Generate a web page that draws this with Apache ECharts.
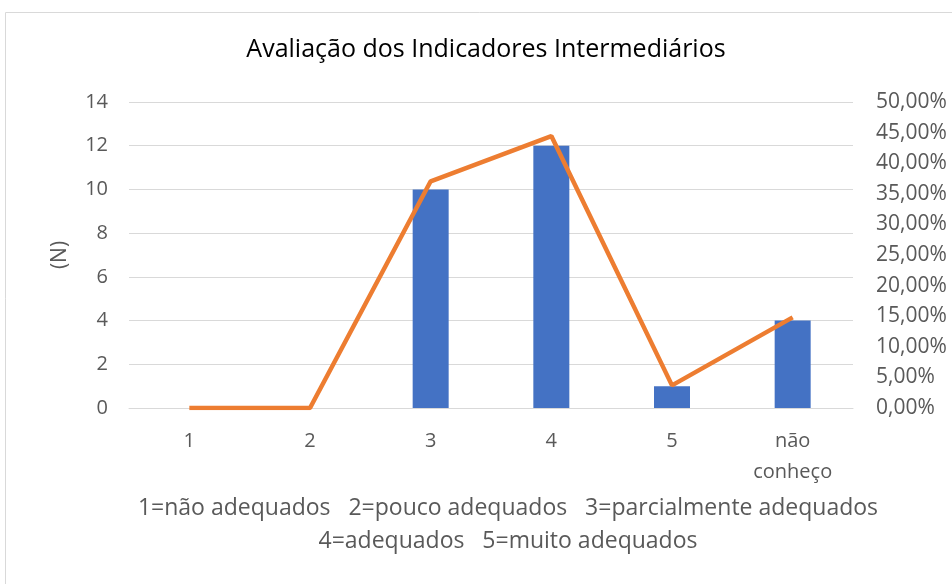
<!DOCTYPE html>
<html><head><meta charset="utf-8">
<script src="https://cdn.jsdelivr.net/npm/echarts@6/dist/echarts.min.js"></script>
<style>html,body{margin:0;padding:0;background:#fff}#c{width:952px;height:584px}</style>
</head><body><div id="c"></div>
<script>
const categories = ['1', '2', '3', '4', '5', 'não\nconheço'];
const counts = [0, 0, 10, 12, 1, 4];
const percents = [0, 0, 0.3704, 0.4444, 0.0370, 0.1481];
const titleText = 'Avaliação dos Indicadores Intermediários';
const legendLine1 = '1=não adequados   2=pouco adequados   3=parcialmente adequados';
const legendLine2 = '4=adequados   5=muito adequados';
const FONT = 'Open Sans';
const GREY = '#595959';
const chart = echarts.init(document.getElementById('c'), null, {renderer: 'canvas'});
chart.setOption({
  animation: false,
  textStyle: {fontFamily: FONT},
  graphic: [
    {type: 'rect', shape: {x: 5.5, y: 12.5, width: 960, height: 600}, style: {fill: 'none', stroke: '#d9d9d9', lineWidth: 1}},
    {type: 'text', x: 486, y: 50, style: {text: titleText, font: '25px "Open Sans"', fill: '#000', textAlign: 'center', textVerticalAlign: 'middle'}},
    {type: 'text', x: 508, y: 508, style: {text: legendLine1, font: '23px "Open Sans"', fill: GREY, textAlign: 'center', textVerticalAlign: 'middle'}},
    {type: 'text', x: 508, y: 541, style: {text: legendLine2, font: '23px "Open Sans"', fill: GREY, textAlign: 'center', textVerticalAlign: 'middle'}}
  ],
  grid: {left: 129, right: 99, top: 102, bottom: 176, containLabel: false},
  xAxis: {type: 'category', data: categories,
    axisLine: {lineStyle: {color: '#d9d9d9', width: 1}}, axisTick: {show: false},
    axisLabel: {color: GREY, fontSize: 20, fontFamily: FONT, margin: 18, lineHeight: 31}},
  yAxis: [
    {type: 'value', min: 0, max: 14, interval: 2, name: '(N)', nameLocation: 'middle', nameGap: 58, nameRotate: 90,
     nameTextStyle: {color: GREY, fontSize: 21, fontFamily: FONT},
     axisLine: {show: false}, axisTick: {show: false},
     splitLine: {lineStyle: {color: '#d9d9d9', width: 1}},
     axisLabel: {color: GREY, fontSize: 20, fontFamily: FONT, margin: 21}},
    {type: 'value', min: 0, max: 0.5, interval: 0.05, position: 'right',
     axisLine: {show: false}, axisTick: {show: false}, splitLine: {show: false},
     axisLabel: {color: GREY, fontSize: 21, fontFamily: FONT, margin: 23,
       formatter: v => (v * 100).toFixed(2).replace('.', ',') + '%'}}
  ],
  series: [
    {type: 'bar', data: counts, yAxisIndex: 0, barWidth: 36, itemStyle: {color: '#4472C4'}},
    {type: 'line', data: percents, yAxisIndex: 1, symbol: 'none', lineStyle: {color: '#ED7D31', width: 4.5}, itemStyle: {color: '#ED7D31'}}
  ]
});
</script></body></html>
